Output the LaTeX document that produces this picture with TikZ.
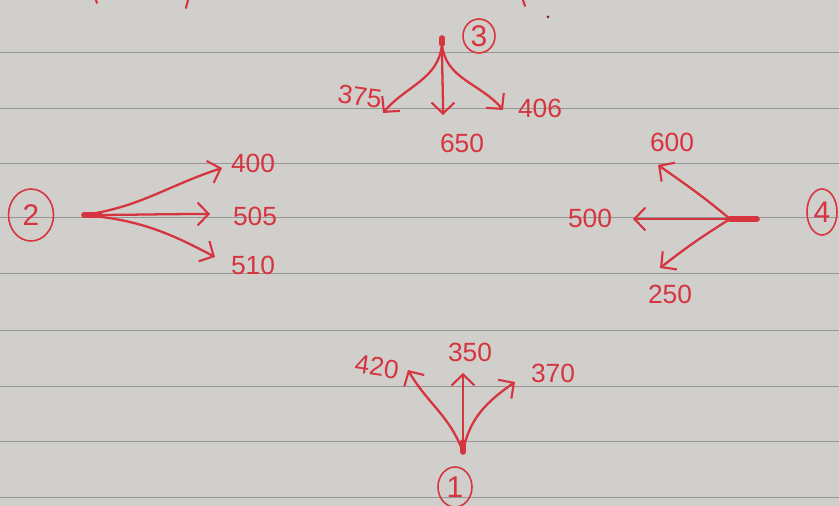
\documentclass[tikz,border=0pt]{standalone}
\usepackage{fontspec}
\setmainfont{Liberation Sans}
\usetikzlibrary{positioning, arrows.meta, shapes.geometric}
\definecolor{ink}{RGB}{214,52,62}
\definecolor{paper}{RGB}{209,207,204}
\definecolor{rulegrey}{RGB}{150,150,148}
\tikzset{
  ruling/.style = {draw = rulegrey, line width = 0.5pt},
  road/.style = {draw = ink, line width = 1.3pt, line cap = round,
    -{Straight Barb[length = 2.2mm, width = 4.6mm, line width = 1.2pt]}},
  stub/.style = {draw = ink, line width = 3.2pt, line cap = round},
  count/.style = {text = ink, inner sep = 1pt, font = \fontsize{15}{15}\selectfont},
  junction/.style 2 args = {draw = ink, ellipse, line width = 0.9pt, inner sep = 0pt,
    text = ink, font = \fontsize{17}{17}\selectfont,
    minimum width = #1, minimum height = #2},  % #1 width, #2 height
  scrap/.style = {draw = ink, line width = 1.2pt, line cap = round}
}
\def \rules {52, 108, 163, 217, 273, 330, 386, 441, 497}

\begin{document}
\begin{tikzpicture}[x = 0.02cm, y = 0.02cm]

%% Paper
\useasboundingbox (0,0) rectangle (839,-506);
\fill [paper] (0,0) rectangle (839,-506);
\foreach \ly in \rules {
  \draw [ruling] (0,-\ly) -- (839,-\ly);
}

%% Ends of the writing above the top line
\draw [scrap] (96,0) -- (97,-3);
\draw [scrap] (188,0) -- (186,-8);
\draw [scrap] (523,0) -- (525,-6);
\fill [ink!60!black] (548,-17) circle (1.5);

%% Junction 3 (top)
\coordinate (s3) at (442,-44);
\draw [stub] (s3) -- ++(0,6);
\node [junction = {0.64cm}{0.68cm}] (n3) at (479,-36) {3};
\foreach \v/\tx/\ty/\lx/\ly/\o/\i/\r in {375/383/113/360/97/-95/50/-8,
    650/443/115/462/143/-90/90/0, 406/503/110/540/108/-85/130/0} {
  \coordinate (t\v) at (\tx,-\ty);
  \node [count, rotate = \r] (c\v) at (\lx,-\ly) {\v};
  \draw [road] (s3) to [out = \o, in = \i] (t\v);
}

%% Junction 2 (left)
\coordinate (s2) at (84,-215);
\draw [stub] (s2) -- ++(16,0);
\node [junction = {0.9cm}{1.04cm}] (n2) at (31,-215) {2};
\foreach \v/\tx/\ty/\lx/\ly/\o/\i in {400/222/168/253/163/8/198,
    505/210/214/255/216/0/180, 510/215/257/253/265/-5/152} {
  \coordinate (t\v) at (\tx,-\ty);
  \node [count] (c\v) at (\lx,-\ly) {\v};
  \draw [road] (s2) to [out = \o, in = \i] (t\v);
}

%% Junction 4 (right)
\coordinate (s4) at (730,-219);
\draw [stub] (s4) -- ++(27,0);
\node [junction = {0.6cm}{0.92cm}] (n4) at (822,-212) {4};
\foreach \v/\tx/\ty/\lx/\ly/\o/\i in {600/658/165/672/142/140/-35,
    500/633/219/590/218/180/0, 250/660/268/670/294/212/38} {
  \coordinate (t\v) at (\tx,-\ty);
  \node [count] (c\v) at (\lx,-\ly) {\v};
  \draw [road] (s4) to [out = \o, in = \i] (t\v);
}

%% Junction 1 (bottom)
\coordinate (s1) at (463,-452);
\draw [stub] (s1) -- ++(0,10);
\node [junction = {0.68cm}{0.8cm}] (n1) at (455,-487) {1};
\foreach \v/\tx/\ty/\lx/\ly/\o/\i/\r in {420/408/370/377/367/110/-60/-8,
    350/463/373/470/352/90/-90/0, 370/515/382/553/373/80/215/0} {
  \coordinate (t\v) at (\tx,-\ty);
  \node [count, rotate = \r] (c\v) at (\lx,-\ly) {\v};
  \draw [road] (s1) to [out = \o, in = \i] (t\v);
}

\end{tikzpicture}
\end{document}
